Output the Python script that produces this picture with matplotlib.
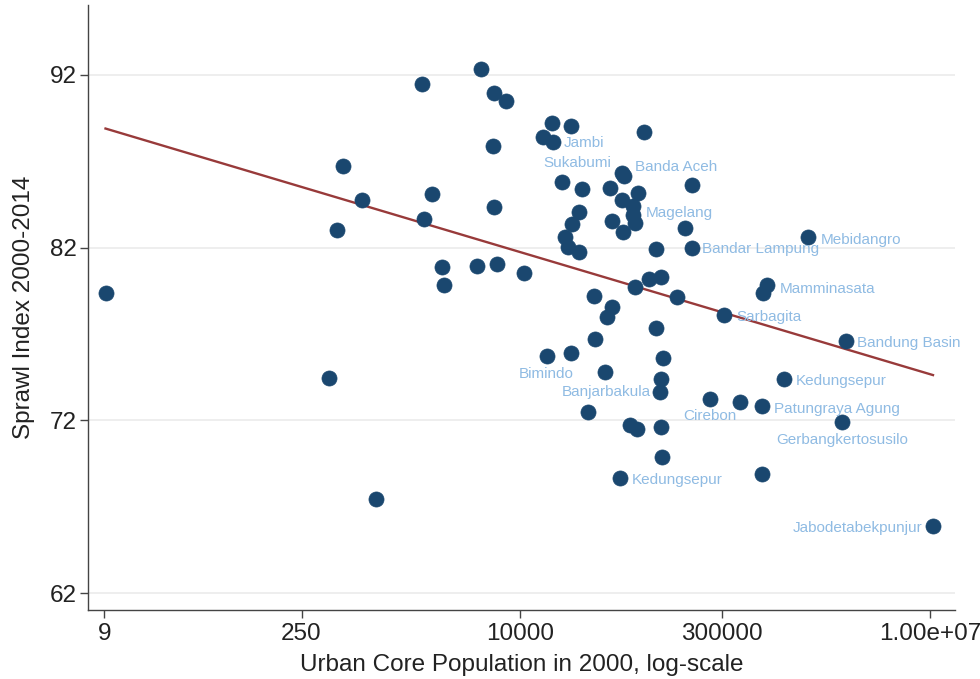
import numpy as np
import matplotlib.pyplot as plt

plt.rcParams['font.family'] = ['Liberation Sans', 'DejaVu Sans']

# urban core population in 2000 (persons) and sprawl index 2000-2014
population = [
    9.2, 399, 457, 500, 689, 873, 1913, 1959, 2253, 2653,
    2757, 5117, 4783, 6403, 6263, 6434, 6767, 7798, 10666, 15553,
    16925, 14696, 17388, 23318, 20035, 21177, 22387, 23953, 26816, 28054,
    26816, 23318, 31352, 34514, 35100, 41538, 42742, 46963, 45180, 46490,
    53490, 55040, 57210, 55600, 55980, 63300, 66930, 66930, 68870, 68870,
    72080, 70880, 80560, 87190, 97610, 97610, 104950, 106730, 106730, 106730,
    109090, 110940, 140430, 160730, 178990, 178990, 243620, 309960, 406010, 582410,
    585370, 592290, 639700, 851800, 1276300, 2397000, 2263000, 10433000,
]
sprawl = [
    79.36, 74.47, 83.01, 86.73, 84.76, 67.44, 91.46, 83.66, 85.09, 80.90,
    79.84, 92.33, 80.96, 90.94, 87.91, 84.37, 81.04, 90.51, 80.55, 75.74,
    89.20, 88.43, 88.14, 89.05, 85.82, 82.60, 82.06, 83.35, 84.05, 85.38,
    81.77, 75.92, 72.50, 79.22, 76.71, 74.82, 78.00, 78.58, 85.47, 83.56,
    68.64, 86.31, 86.15, 84.76, 82.93, 71.73, 84.41, 83.89, 83.41, 79.71,
    85.18, 71.48, 88.72, 80.17, 77.33, 81.91, 73.66, 74.39, 80.32, 71.63,
    69.89, 75.59, 79.16, 83.16, 85.63, 81.98, 73.21, 78.10, 73.06, 72.83,
    68.89, 79.36, 79.84, 74.39, 82.64, 76.61, 71.89, 65.88,
]

# labelled metro areas: name -> index of its point
label_names = ["Jambi", "Sukabumi", "Banda Aceh", "Magelang", "Bandar Lampung",
               "Mebidangro", "Mamminasata", "Sarbagita", "Bandung Basin",
               "Kedungsepur", "Patungraya Agung", "Gerbangkertosusilo", "Cirebon",
               "Jabodetabekpunjur", "Kedungsepur", "Banjarbakula", "Bimindo"]
label_index = [22, 41, 42, 47, 65, 74, 72, 67, 75, 73, 69, 76, 66, 77, 40, 56, 19]

x_ticks = [9, 250, 10000, 300000, 1e7]
x_tick_labels = ["9", "250", "10000", "300000", "1.00e+07"]
y_ticks = [62, 72, 82, 92]

# label placement (offset in pixels, horizontal alignment)
label_pos = [
    (10, -1, "left"), (-10, 10, "right"), (11, 9, "left"), (12, 2, "left"),
    (10, -1, "left"), (12, -3, "left"), (12, -4, "left"), (12, -2, "left"),
    (11, -2, "left"), (11, -2, "left"), (12, -3, "left"), (0, -18, "center"),
    (0, -17, "center"), (-11, -2, "right"), (12, -2, "left"), (-9, 0, "right"),
    (0, -18, "center"),
]

NAVY = "#1a476f"
LABEL = "#8fbbe3"
FIT = "#983a3a"

fig = plt.figure(figsize=(9.8, 6.79), dpi=100)
ax = fig.add_axes([0.0898, 0.1016, 0.8847, 0.891])

x = np.array(population, dtype=float)
y = np.array(sprawl)

# linear fit on log population
b, a = np.polyfit(np.log10(x), y, 1)
xf = np.array([x.min(), x.max()])
ax.plot(xf, a + b * np.log10(xf), color=FIT, lw=1.7, zorder=2)

ax.scatter(x, y, s=118, color=NAVY, edgecolors=NAVY, linewidths=0.5, zorder=3)

for name, i, (dx, dy, ha) in zip(label_names, label_index, label_pos):
    ax.annotate(name, (x[i], y[i]), xytext=(dx, dy), textcoords="offset pixels",
                ha=ha, va="center", fontsize=11, color=LABEL, zorder=4)

ax.set_xscale("log")
ax.set_xlim(6.85, 1.512e7)
ax.set_ylim(61.02, 96.05)
ax.set_xticks(x_ticks)
ax.set_xticklabels(x_tick_labels)
ax.xaxis.set_minor_locator(plt.NullLocator())
ax.set_yticks(y_ticks)

ax.grid(axis="y", color="#ebebeb", lw=1.2, zorder=0)
ax.set_axisbelow(True)
for side in ("top", "right"):
    ax.spines[side].set_visible(False)
for side in ("left", "bottom"):
    ax.spines[side].set_color("#444444")
    ax.spines[side].set_linewidth(1.0)
ax.tick_params(axis="both", length=5.5, width=1, color="#444444", labelsize=17.5,
               labelcolor="#222222")
ax.tick_params(axis="x", pad=4)
ax.tick_params(axis="y", pad=2.5)

ax.set_xlabel("Urban Core Population in 2000, log-scale", fontsize=17.5, color="#222222", labelpad=6)
ax.set_ylabel("Sprawl Index 2000-2014", fontsize=17.5, color="#222222", labelpad=11)

fig.savefig("out.png", dpi=100, facecolor="white")
